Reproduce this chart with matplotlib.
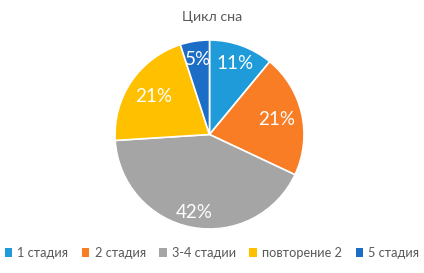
import matplotlib
matplotlib.use("Agg")
import matplotlib.pyplot as plt
from matplotlib.patches import Patch
import numpy as np

categories = ["1 стадия", "2 стадия", "3-4 стадии", "повторение 2", "5 стадия"]
values = [11, 21, 42, 21, 5]
colors = ["#1F9BDA", "#F97D25", "#A5A5A5", "#FFC000", "#1C6DC6"]
label_dist = [0.80, 0.73, 0.84, 0.72, 0.80]

plt.rcParams['font.family'] = ['Lato', 'DejaVu Sans']

W, H = 424, 273
fig = plt.figure(figsize=(W / 100, H / 100), dpi=100)
fig.patch.set_facecolor("white")
ax = fig.add_axes([0, 0, 1, 1])

cx, cy, r = 209.5, H - 134.5, 94.5
total = sum(values)
wedges, _ = ax.pie(values, colors=colors, startangle=90, counterclock=False,
                   center=(cx, cy), radius=r, frame=True,
                   wedgeprops=dict(edgecolor="white", linewidth=1.2))
ax.set_xlim(0, W)
ax.set_ylim(0, H)
ax.set_aspect("equal")
ax.axis("off")

ang = 90.0
for v, d in zip(values, label_dist):
    span = 360.0 * v / total
    mid = np.deg2rad(ang - span / 2)
    x = cx + d * r * np.cos(mid)
    y = cy + d * r * np.sin(mid)
    ax.text(x, y, f"{round(100 * v / total)}%", color="white", fontsize=13.5,
            ha="center", va="center")
    ang -= span

ax.text(212, H - 17, "Цикл сна", ha="center", va="center", fontsize=10.2, color="#595959")

handles = [Patch(facecolor=c, edgecolor="none") for c in colors]
leg = fig.legend(handles, categories, loc="center", bbox_to_anchor=(0.5, 1 - 253 / H),
                 ncol=5, frameon=False, fontsize=9.2, handlelength=0.6, handleheight=0.6,
                 handletextpad=0.4, columnspacing=1.05, labelcolor="#595959")

fig.savefig("out.png", dpi=100, facecolor="white")
